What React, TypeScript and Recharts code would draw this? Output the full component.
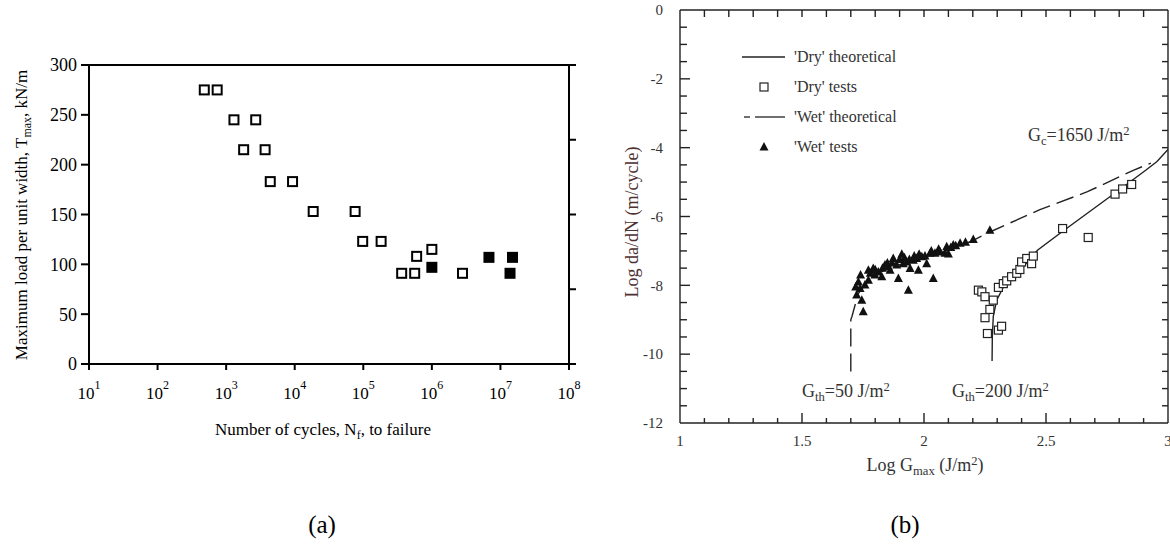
import React from "react";
import {
  ScatterChart,
  ComposedChart,
  Scatter,
  Line,
  XAxis,
  YAxis,
  Legend,
} from "recharts";

// (a) cycles to failure vs maximum load per unit width
const openCycles = [480, 740, 1300, 2700, 1800, 3700, 4400, 9300, 18600, 76000, 98000, 182000, 600000, 1000000, 363000, 562000, 2800000];
const openLoad = [275, 275, 245, 245, 215, 215, 183, 183, 153, 153, 123, 123, 108, 115, 91, 91, 91];
const solidCycles = [1000000, 6800000, 15000000, 13800000];
const solidLoad = [97, 107, 107, 91];
const cycleTicks = [1e1, 1e2, 1e3, 1e4, 1e5, 1e6, 1e7, 1e8];
const loadTicks = [0, 50, 100, 150, 200, 250, 300];
const loadTicksRight = [0, 75, 150, 225, 300];

// (b) crack growth rate vs log G_max
const dryTheoryX = [2.279, 2.28, 2.284, 2.298, 2.332, 2.37, 2.407, 2.465, 2.57, 2.78, 2.91, 2.955, 3.0];
const dryTheoryY = [-10.2, -9.5, -8.9, -8.43, -7.95, -7.7, -7.46, -6.98, -6.42, -5.33, -4.65, -4.4, -4.05];
const wetTheoryX = [1.7, 1.7, 1.705, 1.73, 1.79, 1.9, 2.07, 2.2, 2.27, 2.475, 2.67, 2.86, 2.93];
const wetTheoryY = [-10.5, -9.0, -8.9, -8.25, -7.7, -7.4, -7.05, -6.7, -6.45, -5.8, -5.28, -4.65, -4.45];
const dryTestX = [2.223, 2.237, 2.25, 2.284, 2.27, 2.25, 2.26, 2.305, 2.318, 2.305, 2.325, 2.339, 2.359, 2.38, 2.393, 2.4, 2.421, 2.441, 2.448, 2.568, 2.673, 2.783, 2.814, 2.851];
const dryTestY = [-8.14, -8.19, -8.33, -8.43, -8.7, -8.94, -9.4, -9.3, -9.19, -8.06, -7.95, -7.87, -7.75, -7.65, -7.54, -7.32, -7.22, -7.37, -7.15, -6.35, -6.61, -5.35, -5.2, -5.07];
const wetTestX = [1.731, 1.738, 1.724, 1.745, 1.751, 1.758, 1.772, 1.772, 1.792, 1.799, 1.813, 1.827, 1.84, 1.854, 1.861, 1.874, 1.888, 1.895, 1.909, 1.915, 1.929, 1.936, 1.943, 1.956, 1.97, 1.977, 1.991, 2.004, 2.011, 2.025, 2.038, 2.045, 2.066, 2.086, 2.093, 2.1, 2.12, 2.148, 2.202, 2.27, 1.72, 1.74, 1.78, 1.8, 1.83, 1.85, 1.87, 1.9, 1.92, 1.94, 1.96, 1.98, 2.03, 2.06, 2.11, 2.13, 2.17];
const wetTestY = [-7.9, -8.09, -8.28, -8.43, -8.77, -7.99, -7.85, -7.56, -7.51, -7.7, -7.61, -7.75, -7.41, -7.46, -7.56, -7.22, -7.41, -7.8, -7.1, -7.37, -7.32, -8.14, -7.51, -7.27, -7.22, -7.56, -7.17, -7.15, -7.37, -7.07, -7.8, -7.07, -7.03, -7.07, -6.88, -7.09, -6.83, -6.78, -6.67, -6.4, -8.05, -7.7, -7.65, -7.55, -7.5, -7.35, -7.35, -7.25, -7.2, -7.25, -7.15, -7.1, -7.0, -6.95, -6.9, -6.85, -6.75];
const gLabelTicks = [1, 1.5, 2, 2.5, 3];
const gTicks = [1.1, 1.2, 1.3, 1.4, 1.5, 1.6, 1.7, 1.8, 1.9, 2, 2.1, 2.2, 2.3, 2.4, 2.5, 2.6, 2.7, 2.8, 2.9];
const rateLabelTicks = [-12, -10, -8, -6, -4, -2, 0];
const rateTicks = [-11.5, -11, -10.5, -10, -9.5, -9, -8.5, -8, -7.5, -7, -6.5, -6, -5.5, -5, -4.5, -4, -3.5, -3, -2.5, -2, -1.5, -1, -0.5];
const legendLabels = ["'Dry' theoretical", "'Dry' tests", "'Wet' theoretical", "'Wet' tests"];

const openData = openCycles.map((n, i) => ({ n, t: openLoad[i] }));
const solidData = solidCycles.map((n, i) => ({ n, t: solidLoad[i] }));
const dryTheory = dryTheoryX.map((x, i) => ({ x, y: dryTheoryY[i] }));
const wetTheory = wetTheoryX.map((x, i) => ({ x, y: wetTheoryY[i] }));
const dryTests = dryTestX.map((x, i) => ({ x, y: dryTestY[i] }));
const wetTests = wetTestX.map((x, i) => ({ x, y: wetTestY[i] }));

const SERIF = "'Liberation Serif', 'Times New Roman', serif";
const INK_B = "#222";
const TEXT_B = "#333";
const WET_DASH = "18 7";

// plot boxes (page px), they follow from the chart margins / axis sizes below
const BOX_A = { left: 89, right: 569, top: 65, bottom: 364 };
const BOX_B = { left: 680, right: 1168, top: 10, bottom: 423 };
const gx = (v: number) => BOX_B.left + ((v - 1) / 2) * (BOX_B.right - BOX_B.left);
const ry = (v: number) => BOX_B.top + (-v / 12) * (BOX_B.bottom - BOX_B.top);

const NoLabel = () => <g />;

const PowerTick = ({ x, y, payload }: any) => (
  <text x={x} y={y + 27} textAnchor="middle" fontSize={17} fill="#000" fontFamily={SERIF}>
    10
    <tspan dy={-10} fontSize={12}>
      {Math.round(Math.log10(payload.value))}
    </tspan>
  </text>
);

const OpenSquare = (p: any) => (
  <rect x={p.cx - 4.5} y={p.cy - 4.5} width={9} height={9} fill="#fff" stroke="#000" strokeWidth={2} />
);
const SolidSquare = (p: any) => (
  <rect x={p.cx - 5.5} y={p.cy - 5.5} width={11} height={11} fill="#000" />
);
const DrySquare = (p: any) => (
  <rect x={p.cx - 4} y={p.cy - 4} width={8} height={8} fill="#fff" stroke={INK_B} strokeWidth={1.2} />
);
const WetTriangle = (p: any) => (
  <path d={`M${p.cx},${p.cy - 5}L${p.cx + 4.5},${p.cy + 3.5}L${p.cx - 4.5},${p.cy + 3.5}Z`} fill="#111" />
);

const legendSymbol = (i: number) => {
  if (i === 0) return <line x1={0} y1={7} x2={43} y2={7} stroke={INK_B} strokeWidth={1.3} />;
  if (i === 1) return <rect x={18} y={3} width={8} height={8} fill="#fff" stroke={INK_B} strokeWidth={1.2} />;
  if (i === 2)
    return (
      <g stroke={INK_B} strokeWidth={1.3}>
        <line x1={2} y1={7} x2={8} y2={7} />
        <line x1={13} y1={7} x2={43} y2={7} />
      </g>
    );
  return <path d="M22,2L26.5,10.5L17.5,10.5Z" fill="#111" />;
};

const renderLegend = () => (
  <div style={{ fontFamily: SERIF, fontSize: 16, color: TEXT_B }}>
    {legendLabels.map((label, i) => (
      <div key={label} style={{ display: "flex", alignItems: "center", height: 30 }}>
        <svg width={44} height={14}>{legendSymbol(i)}</svg>
        <span style={{ marginLeft: 8, whiteSpace: "nowrap" }}>{label}</span>
      </div>
    ))}
  </div>
);

// top frame edges and the inward ticks of (b)
const Frame = () => (
  <svg width={1170} height={552} style={{ position: "absolute", left: 0, top: 0, pointerEvents: "none" }}>
    <line x1={BOX_A.left} y1={BOX_A.top} x2={BOX_A.right} y2={BOX_A.top} stroke="#000" strokeWidth={2} />
    <g stroke={INK_B} strokeWidth={1.4}>
      <line x1={BOX_B.left} y1={BOX_B.top} x2={BOX_B.right} y2={BOX_B.top} />
      <line x1={BOX_B.right} y1={BOX_B.top} x2={BOX_B.right} y2={BOX_B.bottom} />
      {gTicks.map((v) => (
        <line key={`b${v}`} x1={gx(v)} y1={BOX_B.bottom} x2={gx(v)} y2={BOX_B.bottom - (gLabelTicks.includes(v) ? 10 : 5)} />
      ))}
      {gTicks.map((v) => (
        <line key={`t${v}`} x1={gx(v)} y1={BOX_B.top} x2={gx(v)} y2={BOX_B.top + 7} />
      ))}
      {rateTicks.map((v) => (
        <line key={`l${v}`} x1={BOX_B.left} y1={ry(v)} x2={BOX_B.left + (rateLabelTicks.includes(v) ? 10 : 7)} y2={ry(v)} />
      ))}
      {rateTicks.map((v) => (
        <line key={`r${v}`} x1={BOX_B.right} y1={ry(v)} x2={BOX_B.right - 6} y2={ry(v)} />
      ))}
    </g>
  </svg>
);

const subStyle: React.CSSProperties = { fontSize: "0.7em", verticalAlign: "baseline", position: "relative", top: "0.3em" };
const supStyle: React.CSSProperties = { fontSize: "0.7em", verticalAlign: "baseline", position: "relative", top: "-0.45em" };

const abs = (left: number, top: number, extra?: React.CSSProperties): React.CSSProperties => ({
  position: "absolute",
  left,
  top,
  whiteSpace: "nowrap",
  lineHeight: "20px",
  ...extra,
});

export default function App() {
  const axisA = { stroke: "#000", strokeWidth: 2 };
  const axisB = { stroke: INK_B, strokeWidth: 1.4 };

  return (
    <div style={{ position: "absolute", left: 0, top: 0, width: 1170, height: 552, background: "#fff", fontFamily: SERIF, overflow: "hidden" }}>
      {/* (a) */}
      <div style={{ position: "absolute", left: 0, top: 0 }}>
        <ScatterChart width={600} height={552} margin={{ top: BOX_A.top, right: 21, bottom: 148, left: 0 }}>
          <XAxis
            dataKey="n"
            type="number"
            scale="log"
            domain={[10, 1e8]}
            ticks={cycleTicks}
            interval={0}
            allowDataOverflow
            tickSize={6}
            tickMargin={2}
            height={40}
            axisLine={axisA}
            tickLine={axisA}
            tick={PowerTick}
          />
          <YAxis
            dataKey="t"
            type="number"
            domain={[0, 300]}
            ticks={loadTicks}
            interval={0}
            allowDataOverflow
            width={BOX_A.left}
            tickSize={8}
            tickMargin={4}
            axisLine={axisA}
            tickLine={axisA}
            tick={{ fontSize: 18, fill: "#000", fontFamily: SERIF }}
          />
          <YAxis
            yAxisId="right"
            orientation="right"
            type="number"
            domain={[0, 300]}
            ticks={loadTicksRight}
            interval={0}
            allowDataOverflow
            width={10}
            tickSize={7}
            axisLine={axisA}
            tickLine={axisA}
            tick={NoLabel}
          />
          <Scatter data={openData} dataKey="t" shape={OpenSquare} isAnimationActive={false} />
          <Scatter data={solidData} dataKey="t" shape={SolidSquare} isAnimationActive={false} />
        </ScatterChart>
      </div>

      <div style={abs(22, 215, { fontSize: 17, transform: "translate(-50%, -50%) rotate(-90deg)" })}>
        Maximum load per unit width, T<span style={subStyle}>max</span>, kN/m
      </div>
      <div style={abs(323, 430, { fontSize: 17, transform: "translate(-50%, -50%)" })}>
        Number of cycles, N<span style={subStyle}>f</span>, to failure
      </div>
      <div style={abs(322, 525, { fontSize: 25, lineHeight: "30px", transform: "translate(-50%, -50%)" })}>(a)</div>

      {/* (b) */}
      <div style={{ position: "absolute", left: 600, top: 0 }}>
        <ComposedChart width={570} height={552} margin={{ top: BOX_B.top, right: 2, bottom: 89, left: 0 }}>
          <XAxis
            dataKey="x"
            type="number"
            domain={[1, 3]}
            ticks={gLabelTicks}
            interval={0}
            allowDataOverflow
            height={40}
            tickSize={0}
            tickMargin={12}
            axisLine={axisB}
            tickLine={false}
            tick={{ fontSize: 15, fill: TEXT_B, fontFamily: SERIF }}
          />
          <YAxis
            dataKey="y"
            type="number"
            domain={[-12, 0]}
            ticks={rateLabelTicks}
            interval={0}
            allowDataOverflow
            width={80}
            tickSize={0}
            tickMargin={17}
            axisLine={axisB}
            tickLine={false}
            tick={{ fontSize: 15, fill: TEXT_B, fontFamily: SERIF }}
          />
          <Line data={wetTheory} dataKey="y" type="linear" dot={false} stroke={INK_B} strokeWidth={1.4} strokeDasharray={WET_DASH} isAnimationActive={false} />
          <Line data={dryTheory} dataKey="y" type="linear" dot={false} stroke={INK_B} strokeWidth={1.4} isAnimationActive={false} />
          <Scatter data={wetTests} dataKey="y" shape={WetTriangle} isAnimationActive={false} />
          <Scatter data={dryTests} dataKey="y" shape={DrySquare} isAnimationActive={false} />
          <Legend layout="vertical" align="center" verticalAlign="middle" content={renderLegend} wrapperStyle={{ left: 142, top: 42, width: 220 }} />
        </ComposedChart>
      </div>

      <Frame />

      <div style={abs(632, 222, { fontSize: 18, color: "#4d3030", transform: "translate(-50%, -50%) rotate(-90deg)" })}>
        Log da/dN (m/cycle)
      </div>
      <div style={abs(925, 466, { fontSize: 18, color: TEXT_B, transform: "translate(-50%, -50%)" })}>
        Log G<span style={subStyle}>max</span> (J/m<span style={supStyle}>2</span>)
      </div>
      <div style={abs(1028, 125, { fontSize: 18, color: TEXT_B })}>
        G<span style={subStyle}>c</span>=1650 J/m<span style={supStyle}>2</span>
      </div>
      <div style={abs(802, 381, { fontSize: 18, color: TEXT_B })}>
        G<span style={subStyle}>th</span>=50 J/m<span style={supStyle}>2</span>
      </div>
      <div style={abs(952, 381, { fontSize: 18, color: TEXT_B })}>
        G<span style={subStyle}>th</span>=200 J/m<span style={supStyle}>2</span>
      </div>
      <div style={abs(905, 525, { fontSize: 25, lineHeight: "30px", transform: "translate(-50%, -50%)" })}>(b)</div>
    </div>
  );
}
